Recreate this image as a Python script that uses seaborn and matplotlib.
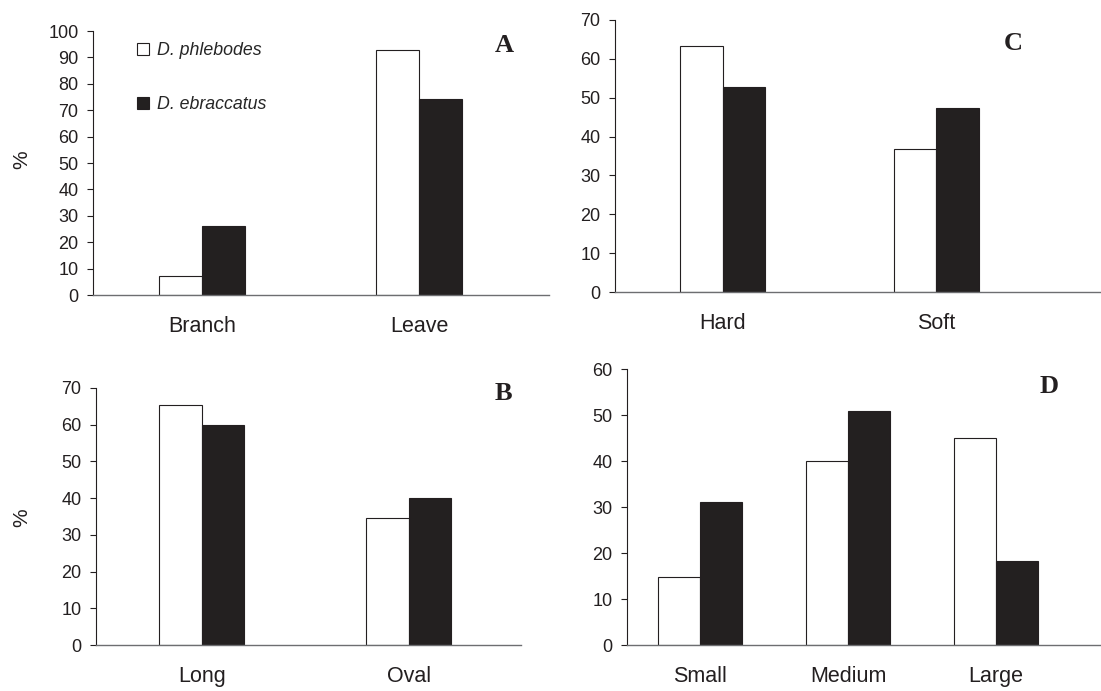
import pandas as pd
import numpy as np
import matplotlib
matplotlib.use('Agg')
import matplotlib.pyplot as plt
import seaborn as sns

# ── DATA ──────────────────────────────────────────────────────────────────
species = ['D. phlebodes', 'D. ebraccatus']

cat_a = ['Branch', 'Leave']
a_phleb = [7.1, 92.7]
a_ebrac = [26.1, 74.1]

cat_b = ['Long', 'Oval']
b_phleb = [65.5, 34.5]
b_ebrac = [59.9, 40.0]

cat_c = ['Hard', 'Soft']
c_phleb = [63.2, 36.7]
c_ebrac = [52.7, 47.3]

cat_d = ['Small', 'Medium', 'Large']
d_phleb = [14.8, 40.1, 45.0]
d_ebrac = [31.0, 50.9, 18.3]


def long_df(cats, phleb, ebrac):
    return pd.DataFrame({
        'cat': cats * 2,
        'species': [species[0]] * len(cats) + [species[1]] * len(cats),
        'pct': list(phleb) + list(ebrac),
    })


# ── STYLE ─────────────────────────────────────────────────────────────────
sns.set_style('white')
plt.rcParams['font.family'] = ['Liberation Sans', 'DejaVu Sans']
INK = '#231f20'
GREY = '#6d6e71'
palette = {species[0]: 'white', species[1]: INK}

W, H = 1101, 691
fig = plt.figure(figsize=(W / 100, H / 100), dpi=100)


def px_axes(left, right, top, bottom):
    return fig.add_axes([left / W, 1 - bottom / H, (right - left) / W, (bottom - top) / H])


# panel boxes in pixels: left, right, top, bottom
panels = [
    ('A', long_df(cat_a, a_phleb, a_ebrac), (93, 549, 31, 295), (-0.502, 1.599), 100, 0.40, (504, 45)),
    ('B', long_df(cat_b, b_phleb, b_ebrac), (96, 521, 388, 645), (-0.511, 1.542), 70, 0.41, (503, 393)),
    ('C', long_df(cat_c, c_phleb, c_ebrac), (615, 1101, 20, 292), (-0.504, 1.77), 70, 0.40, (1013, 43)),
    ('D', long_df(cat_d, d_phleb, d_ebrac), (627, 1101, 369, 645), (-0.493, 2.71), 60, 0.57, (1049, 387)),
]

axes = {}
for letter, df, box, xlim, ymax, bw, lpos in panels:
    ax = px_axes(*box)
    sns.barplot(data=df, x='cat', y='pct', hue='species', palette=palette,
                width=bw, edgecolor=INK, linewidth=0.8, ax=ax,
                legend=(letter == 'A'))
    ax.set_xlim(*xlim)
    ax.set_ylim(0, ymax)
    ax.set_yticks(np.arange(0, ymax + 1, 10))
    ax.set_xlabel('')
    ax.set_ylabel('')
    sns.despine(ax=ax)
    ax.spines['left'].set_color(INK)
    ax.spines['left'].set_linewidth(0.8)
    ax.spines['bottom'].set_color(GREY)
    ax.spines['bottom'].set_linewidth(1.0)
    ax.tick_params(axis='y', direction='out', length=4.5, width=0.8, color=INK,
                   labelsize=13, labelcolor=INK, pad=6, left=True)
    ax.tick_params(axis='x', length=0, labelsize=15.5, labelcolor=INK, pad=15)
    fig.text(lpos[0] / W, 1 - lpos[1] / H, letter, fontsize=19, fontweight='bold',
             family='Liberation Serif', color=INK, ha='center', va='center')
    axes[letter] = ax

# legend inside panel A
axA = axes['A']
handles, labels = axA.get_legend_handles_labels()
axA.legend(handles, labels, loc='upper left', bbox_to_anchor=(137 / W, 1 - 42 / H),
           bbox_transform=fig.transFigure, frameon=False, borderpad=0, borderaxespad=0,
           handlelength=0.7, handleheight=0.7, handletextpad=0.4, labelspacing=2.1,
           prop={'style': 'italic', 'size': 12.8})

# y-axis "%" labels
fig.text(22 / W, 1 - 160 / H, '%', rotation=90, fontsize=15, color=INK, ha='center', va='center')
fig.text(22 / W, 1 - 518 / H, '%', rotation=90, fontsize=15, color=INK, ha='center', va='center')

plt.savefig('out.png', dpi=100)
